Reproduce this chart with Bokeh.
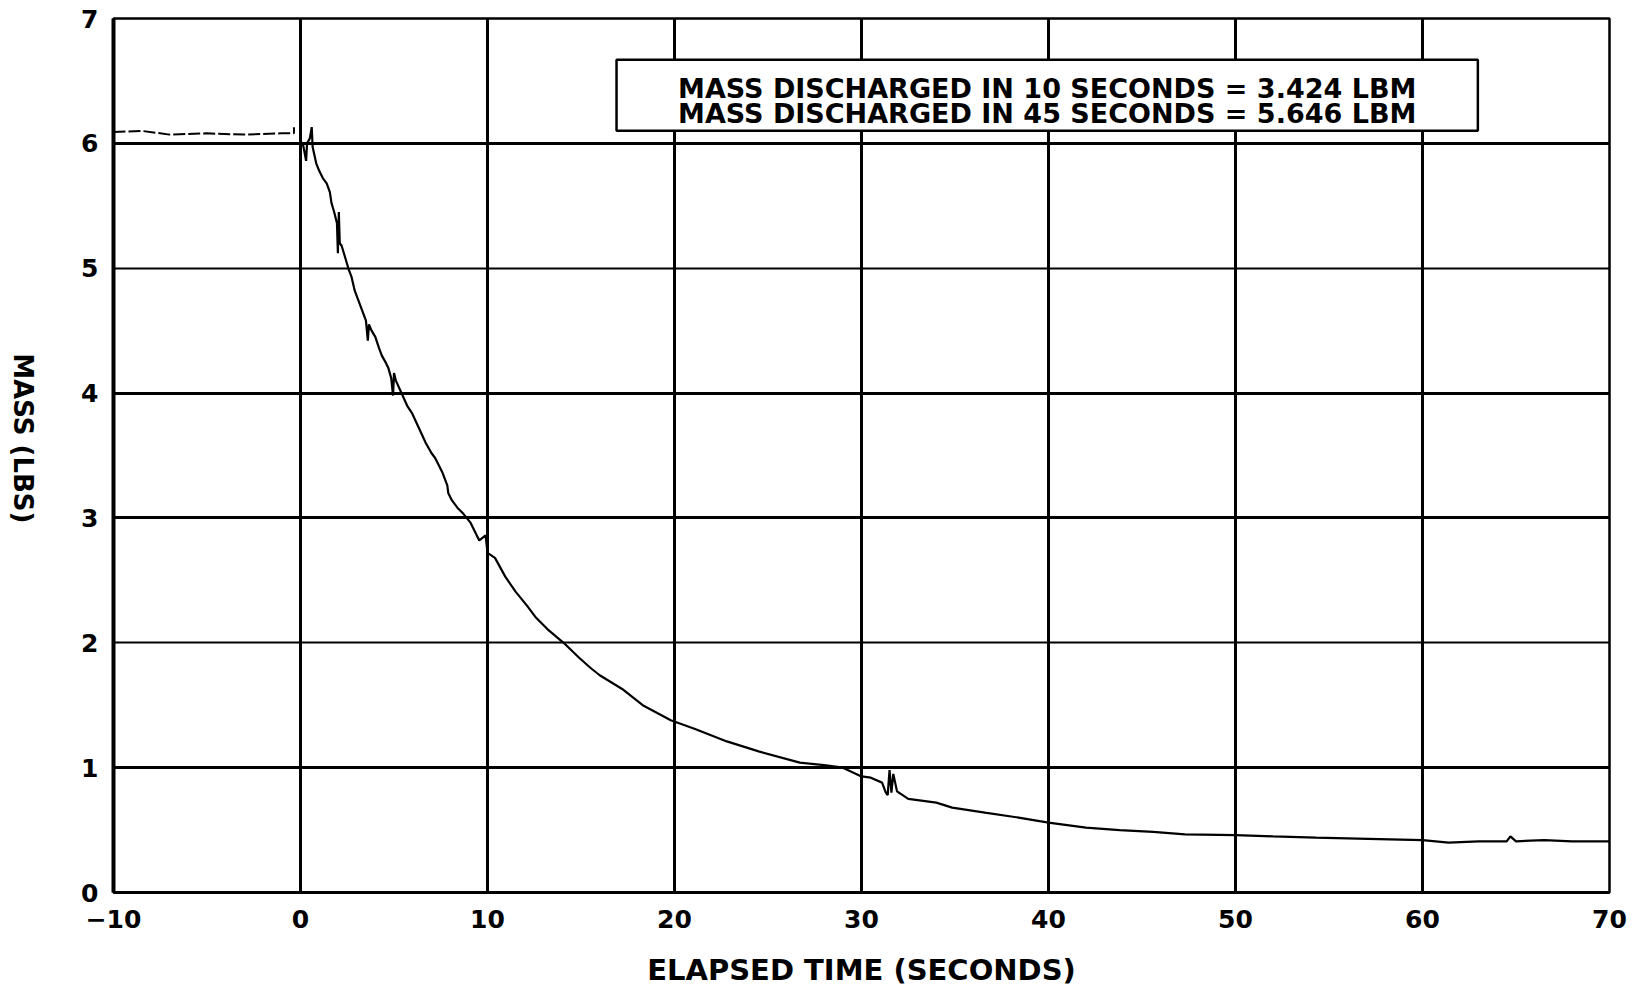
import math
from bokeh.plotting import figure
from bokeh.layouts import row
from bokeh.models import (FixedTicker, Grid, Label, BoxAnnotation, Range1d)
from bokeh.embed import file_html
from bokeh.resources import INLINE

# ---- data ----
pre_time = [-10.0, -8.5, -7.0, -5.0, -3.0, -1.0, -0.35, -0.35]
pre_mass = [6.09, 6.10, 6.07, 6.08, 6.07, 6.08, 6.08, 6.13]

time = [0.0, 0.15, 0.3, 0.35, 0.5, 0.6, 0.65, 0.84, 1.0, 1.2, 1.4, 1.57, 1.66, 1.8, 1.95,
        2.0, 2.05, 2.1, 2.2, 2.4, 2.6, 2.73, 2.9, 3.1, 3.3, 3.5, 3.6, 3.66, 3.8, 4.0,
        4.2, 4.35, 4.5, 4.7, 4.85, 4.95, 5.0, 5.1, 5.4, 5.7, 5.96, 6.3, 6.7, 7.0, 7.2,
        7.57, 7.85, 7.9, 8.1, 8.4, 8.67, 9.1, 9.56, 9.9, 10.0, 10.4, 10.95, 11.5, 12.1,
        12.6, 13.2, 14.07, 14.9, 15.5, 16.0, 17.2, 18.3, 19.8, 21.1, 22.8, 24.5, 26.7,
        28.0, 29.0, 30.0, 30.5, 31.1, 31.3, 31.4, 31.5, 31.6, 31.7, 31.9, 32.5, 34.0,
        34.85, 36.6, 38.4, 40.0, 42.0, 43.8, 45.6, 47.3, 50.0, 52.0, 54.3, 57.1, 60.0,
        61.4, 63.0, 64.5, 64.7, 65.0, 66.5, 68.0, 70.0]
mass = [6.02, 5.98, 5.86, 6.0, 6.04, 6.13, 5.97, 5.84, 5.78, 5.72, 5.68, 5.61, 5.52, 5.45, 5.36,
        5.12, 5.45, 5.2, 5.18, 5.08, 4.98, 4.93, 4.82, 4.74, 4.66, 4.58, 4.42, 4.55, 4.5, 4.45,
        4.36, 4.3, 4.26, 4.2, 4.12, 3.98, 4.16, 4.1, 4.0, 3.9, 3.84, 3.73, 3.6, 3.52, 3.48,
        3.37, 3.26, 3.2, 3.14, 3.08, 3.04, 2.96, 2.82, 2.86, 2.72, 2.68, 2.53, 2.41, 2.3,
        2.2, 2.11, 2.0, 1.88, 1.8, 1.74, 1.63, 1.5, 1.38, 1.31, 1.21, 1.13, 1.04,
        1.02, 1.0, 0.93, 0.92, 0.88, 0.8, 0.78, 0.98, 0.8, 0.95, 0.81, 0.75, 0.72,
        0.68, 0.64, 0.6, 0.56, 0.52, 0.5, 0.485, 0.465, 0.46, 0.45, 0.44, 0.43, 0.42,
        0.40, 0.41, 0.41, 0.45, 0.41, 0.42, 0.41, 0.41]

x_ticks = [-10, 0, 10, 20, 30, 40, 50, 60, 70]
x_tick_labels = ["\u221210", "0", "10", "20", "30", "40", "50", "60", "70"]
y_ticks = [0, 1, 2, 3, 4, 5, 6, 7]
y_thick_grid = [1, 3, 4, 6]
y_thin_grid = [2, 5]

note_lines = ["MASS DISCHARGED IN 10 SECONDS = 3.424 LBM",
              "MASS DISCHARGED IN 45 SECONDS = 5.646 LBM"]
y_label = "MASS (LBS)"
x_label = "ELAPSED TIME (SECONDS)"

FONT = "DejaVu Sans"
H = 989
LW = 45  # width of the strip holding the vertical y label

# ---- strip with the y-axis title (reads top to bottom) ----
lf = figure(width=LW, height=H, output_backend="svg", toolbar_location=None,
            x_range=Range1d(0, LW), y_range=Range1d(0, H),
            min_border=0, min_border_left=0, min_border_right=0,
            min_border_top=0, min_border_bottom=0)
lf.axis.visible = False
lf.grid.visible = False
lf.outline_line_color = None
lf.background_fill_color = "white"
lf.border_fill_color = "white"
lf.add_layout(Label(x=22, y=H - 475, text=y_label, angle=-math.pi / 2,
                    text_align="center", text_baseline="middle", text_font=FONT,
                    text_font_style="bold", text_font_size="26px", text_color="black"))

# ---- main chart ----
p = figure(width=1638 - LW, height=H, output_backend="svg", toolbar_location=None,
           x_range=Range1d(-10, 70), y_range=Range1d(0, 7),
           min_border_left=113 - LW, min_border_right=29, min_border_top=18,
           min_border_bottom=H - 894)
p.background_fill_color = "white"
p.border_fill_color = "white"
p.outline_line_color = "black"
p.outline_line_width = 2.5

p.xaxis.ticker = FixedTicker(ticks=x_ticks)
p.xaxis.major_label_overrides = {t: l for t, l in zip(x_ticks, x_tick_labels)}
p.yaxis.ticker = FixedTicker(ticks=y_ticks)
for ax in (p.xaxis[0], p.yaxis[0]):
    ax.major_tick_out = 0
    ax.major_tick_in = 0
    ax.minor_tick_out = 0
    ax.minor_tick_in = 0
    ax.major_label_text_font = FONT
    ax.major_label_text_font_style = "bold"
    ax.major_label_text_font_size = "25px"
    ax.major_label_text_color = "black"
    ax.axis_line_color = "black"
    ax.axis_label_text_font = FONT
    ax.axis_label_text_font_style = "bold"
    ax.axis_label_text_color = "black"
p.xaxis.axis_line_width = 3
p.yaxis.axis_line_width = 4
p.xaxis.major_label_standoff = 17
p.yaxis.major_label_standoff = 15

p.xaxis.axis_label = x_label
p.xaxis.axis_label_text_font_size = "29px"
p.xaxis.axis_label_standoff = 22

# grids
p.xgrid.ticker = FixedTicker(ticks=x_ticks[1:-1])
p.xgrid.grid_line_color = "black"
p.xgrid.grid_line_width = 3
p.ygrid.ticker = FixedTicker(ticks=y_thick_grid)
p.ygrid.grid_line_color = "black"
p.ygrid.grid_line_width = 3
thin = Grid(dimension=1, ticker=FixedTicker(ticks=y_thin_grid),
            grid_line_color="black", grid_line_width=1.8)
p.add_layout(thin)

# data lines
p.line(pre_time, pre_mass, line_color="black", line_width=2, line_dash="12 3")
p.line(time, mass, line_color="black", line_width=2.2)

# note box
box = BoxAnnotation(left=16.9, right=62.96, bottom=6.1, top=6.67,
                    fill_color="white", fill_alpha=1.0,
                    line_color="black", line_alpha=1.0, line_width=2.5, level="overlay")
p.add_layout(box)
for i, txt in enumerate(note_lines):
    p.add_layout(Label(x=39.93, y=6.44 - 0.2 * i, text=txt, text_align="center",
                       text_baseline="alphabetic", text_font=FONT, text_font_style="bold",
                       text_font_size="27px", text_color="black", level="overlay"))

layout = row(lf, p, spacing=0)
open("out.html", "w").write(file_html(layout, INLINE))
